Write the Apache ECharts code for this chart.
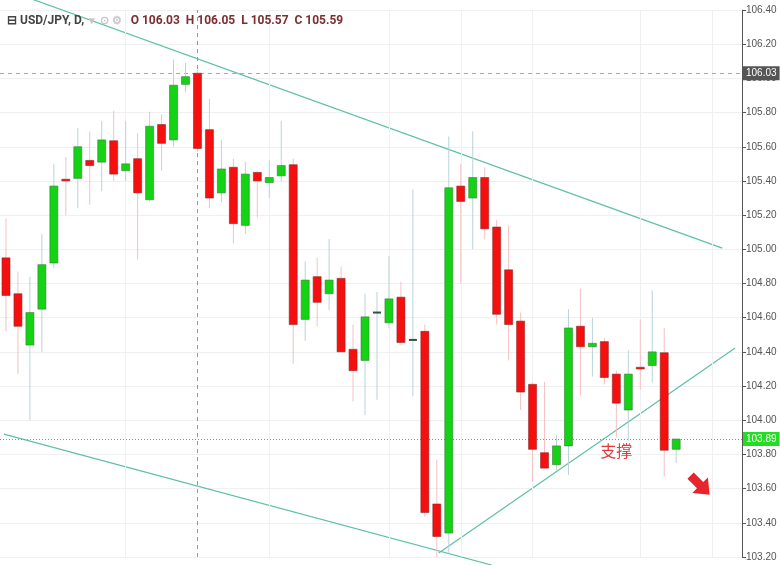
<!DOCTYPE html>
<html>
<head>
<meta charset="utf-8">
<script src="https://cdn.jsdelivr.net/npm/echarts@6/dist/echarts.min.js"></script>
<style>html,body{margin:0;padding:0;background:#fff}#chart{width:780px;height:565px}</style>
</head>
<body>
<div id="chart"></div>
<script>
// daily candles, USD/JPY
var opens  = [104.95,104.74,104.44,104.65,104.92,105.41,105.415,105.52,105.51,105.635,105.46,105.53,105.29,105.73,105.64,105.965,106.03,105.70,105.33,105.48,105.14,105.45,105.39,105.43,105.495,104.59,104.84,104.74,104.83,104.415,104.35,104.63,104.57,104.72,104.47,104.52,103.51,103.34,105.37,105.30,105.42,105.13,104.88,104.58,104.21,103.81,103.74,103.85,104.55,104.43,104.46,104.27,104.06,104.31,104.32,104.395,103.83];
var closes = [104.73,104.55,104.63,104.91,105.37,105.40,105.60,105.49,105.64,105.44,105.50,105.33,105.72,105.62,105.96,106.01,105.59,105.30,105.47,105.15,105.44,105.40,105.42,105.49,104.56,104.82,104.69,104.82,104.40,104.29,104.605,104.63,104.71,104.455,104.47,103.46,103.32,105.36,105.28,105.42,105.12,104.62,104.56,104.165,103.83,103.72,103.85,104.54,104.43,104.45,104.25,104.10,104.27,104.30,104.40,103.825,103.89];
var lows   = [104.52,104.27,104.00,104.40,104.89,105.20,105.24,105.26,105.34,105.40,105.40,104.94,105.28,105.46,105.60,105.92,105.57,105.24,105.275,105.035,105.09,105.185,105.30,105.395,104.33,104.465,104.55,104.645,104.40,104.11,104.03,104.12,104.54,104.44,104.14,103.435,103.20,103.22,104.80,105.00,105.06,104.56,104.35,104.06,103.64,103.72,103.71,103.68,104.145,104.255,104.21,103.90,103.88,104.18,104.22,103.67,103.75];
var highs  = [105.18,104.87,104.84,105.09,105.50,105.54,105.71,105.69,105.75,105.81,105.75,105.68,105.805,105.79,106.11,106.09,106.05,105.88,105.64,105.53,105.51,105.46,105.52,105.75,105.53,104.93,104.95,105.06,104.90,104.56,104.74,104.75,104.96,104.81,105.35,104.56,103.77,105.66,105.50,105.69,105.48,105.17,105.14,104.63,104.22,104.225,103.91,104.65,104.77,104.60,104.48,104.29,104.41,104.59,104.76,104.54,103.89];
var slotCount = 62;
var categories = [];
for (var i = 0; i < slotCount; i++) categories.push(String(i + 1));

// drawn trend lines: [index, price]
var upperLine   = [[-0.17, 106.523], [59.85, 105.007]];
var lowerLine   = [[-0.17, 103.919], [40.57, 103.153]];
var supportLine = [[36.16, 103.223], [60.93, 104.422]];
var gridCols = [10, 22, 32, 38, 44, 53, 59];
var lastPrice = 103.89, crossPrice = 106.03, crossIndex = 16;

var rows = opens.map(function (o, i) { return [i, o, closes[i], lows[i], highs[i]]; });

function renderCandle(params, api) {
  var x = api.value(0), o = api.value(1), c = api.value(2);
  var pl = api.coord([x, api.value(3)]), ph = api.coord([x, api.value(4)]);
  var po = api.coord([x, o]), pc = api.coord([x, c]);
  var up = c >= o;
  var top = Math.min(po[1], pc[1]), h = Math.abs(po[1] - pc[1]);
  var doji = h < 1.5;
  if (doji) { top -= 1; h = 2; }
  var bw = 8;
  return {
    type: 'group',
    children: [{
      type: 'line',
      shape: { x1: pl[0], y1: pl[1], x2: ph[0], y2: ph[1] },
      style: { stroke: up ? '#b9d3da' : '#f6c0c0', lineWidth: 1 }
    }, {
      type: 'rect',
      shape: { x: po[0] - bw / 2, y: top, width: bw, height: h },
      style: {
        fill: doji ? (up ? '#2f4f3f' : '#7a1f1f') : (up ? '#14d314' : '#f50f0f'),
        stroke: doji ? null : (up ? '#3c7a3c' : '#8a2a2a'),
        lineWidth: 0.6
      }
    }]
  };
}

function trend(data) {
  return {
    type: 'line', xAxisIndex: 1, data: data, symbol: 'none', clip: false, silent: true,
    lineStyle: { color: '#5fbfa8', width: 1.2 }, z: 3
  };
}

var chart = echarts.init(document.getElementById('chart'));
chart.setOption({
  animation: false,
  backgroundColor: '#fff',
  title: {
    left: 2, top: 7,
    text: '{b|⊟ USD/JPY, D,} {g|▾  ⊙ ⚙}  {v|O 106.03  H 106.05  L 105.57  C 105.59}',
    textStyle: {
      fontFamily: 'Roboto',
      rich: {
        b: { fontSize: 12, fontWeight: 'bold', color: '#444' },
        g: { fontSize: 11, color: '#c8c8c8' },
        v: { fontSize: 12, color: '#7b2f2f' }
      }
    }
  },
  grid: { left: -4, right: 38, top: 10, bottom: 8 },
  xAxis: [{
    type: 'category', data: categories, boundaryGap: true,
    axisLine: { show: false }, axisTick: { show: false }, axisLabel: { show: false },
    splitLine: { show: false }
  }, {
    type: 'value', min: -0.5, max: slotCount - 0.5, show: false
  }],
  yAxis: {
    type: 'value', position: 'right', min: 103.2, max: 106.4, interval: 0.2,
    axisLine: { show: true, onZero: false, lineStyle: { color: '#555' } },
    axisTick: { show: true, length: 4, lineStyle: { color: '#555' } },
    axisLabel: { color: '#555', fontSize: 10, fontFamily: 'Arial', margin: 4,
      formatter: function (v) { return v.toFixed(2); } },
    splitLine: { show: true, lineStyle: { color: '#eef0f2' } }
  },
  series: [{
    type: 'custom',
    renderItem: renderCandle,
    encode: { x: 0, y: [1, 2, 3, 4] },
    data: rows,
    z: 5,
    markLine: {
      symbol: 'none', silent: true,
      data: gridCols.map(function (c) {
        return { xAxis: c, lineStyle: { color: '#eef0f2', type: 'solid', width: 1 }, label: { show: false } };
      }).concat([
        { xAxis: crossIndex, lineStyle: { color: '#999', type: [4, 4], width: 1 }, label: { show: false } },
        { yAxis: crossPrice, lineStyle: { color: '#aaa', type: [4, 4], width: 1 },
          label: { show: true, position: 'end', distance: 1, formatter: '106.03', color: '#fff',
            backgroundColor: '#555', padding: [2, 3], fontSize: 10 } },
        { yAxis: lastPrice, lineStyle: { color: '#33cc33', type: [1, 2], width: 1 },
          label: { show: true, position: 'end', distance: 1, formatter: '103.89', color: '#fff',
            backgroundColor: '#22dd22', padding: [2, 3], fontSize: 10 } }
      ])
    },
    markPoint: {
      silent: true,
      data: [{
        coord: [57.7, 103.62],
        symbol: 'path://M3,0 L7,0 L7,6 L10,6 L5,12 L0,6 L3,6 Z',
        symbolSize: [22, 27], symbolRotate: 45,
        itemStyle: { color: '#e8242c' }, label: { show: false }
      }, {
        coord: [50.6, 103.82], symbol: 'rect', symbolSize: 1,
        itemStyle: { color: 'transparent' },
        label: { show: true, formatter: '支撑', color: '#e03a3a', fontSize: 16,
          fontFamily: 'Noto Sans CJK SC', position: 'inside' }
      }]
    }
  },
    trend(upperLine), trend(lowerLine), trend(supportLine)
  ]
});
</script>
</body>
</html>
